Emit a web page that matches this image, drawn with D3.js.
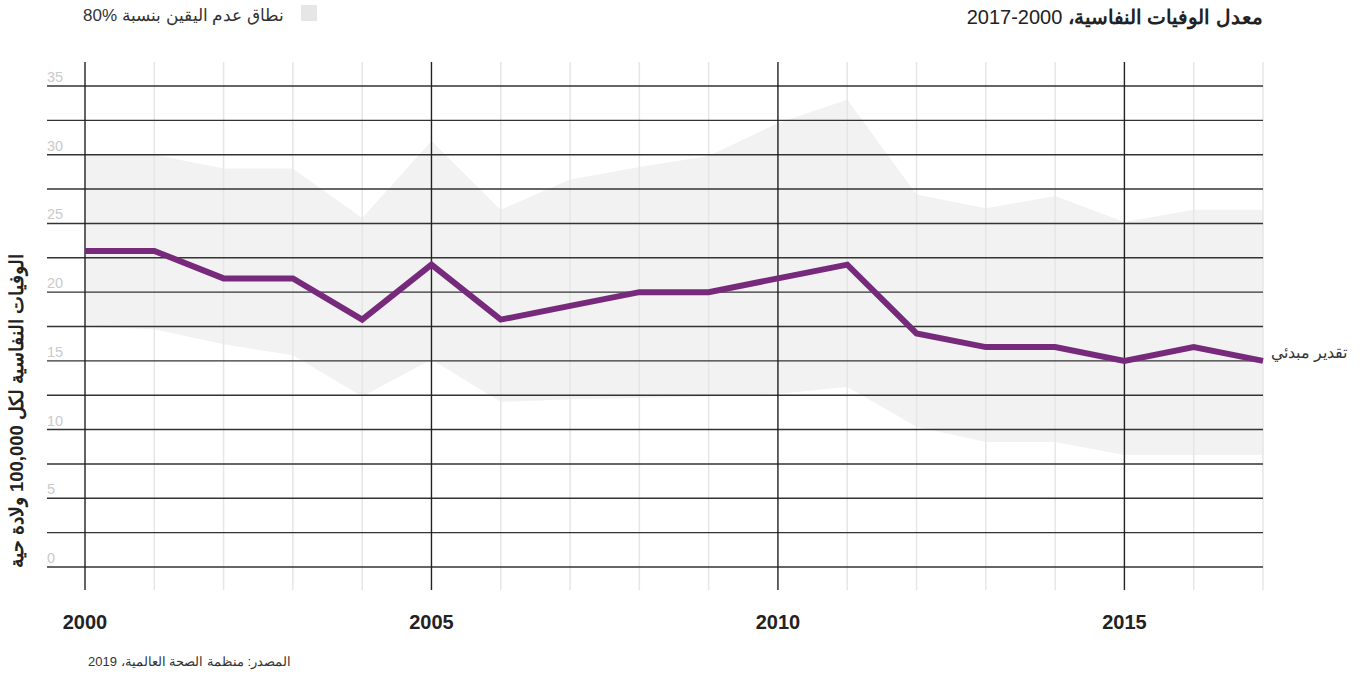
<!DOCTYPE html>
<html>
<head>
<meta charset="utf-8">
<script src="https://cdn.jsdelivr.net/npm/d3@7"></script>
<style>
  html, body { margin: 0; padding: 0; background: #fff; }
  svg { display: block; font-family: "Liberation Sans", Arial, sans-serif; }
</style>
</head>
<body>
<svg id="chart" width="1371" height="677"></svg>
<script>
// ---- data ----
const years = [2000,2001,2002,2003,2004,2005,2006,2007,2008,2009,2010,2011,2012,2013,2014,2015,2016,2017];
const estimate = [23,23,21,21,18,22,18,19,20,20,21,22,17,16,16,15,16,15];
const upper = [30,30,29,29,25.4,31,26,28.2,29.1,29.9,32.3,34,27.1,26.1,27,25.1,26,26];
const lower = [17.5,17.3,16.2,15.4,12.4,15.1,12,12.2,12.3,12.4,12.6,13.1,10.2,9.1,9.1,8.15,8.15,8.15];
const yTickLabels = [0,5,10,15,20,25,30,35];
const yGridValues = [0,2.5,5,7.5,10,12.5,15,17.5,20,22.5,25,27.5,30,32.5,35];
const xTickLabels = [2000,2005,2010,2015];

const titleBold = "معدل الوفيات النفاسية،";
const titleRest = " 2000-2017";
const legendText = "نطاق عدم اليقين بنسبة %80";
const yAxisTitle = "الوفيات النفاسية لكل 100,000 ولادة حية";
const lineLabel = "تقدير مبدئي";
const sourceText = "المصدر: منظمة الصحة العالمية، 2019";

// ---- layout ----
const svg = d3.select("#chart");
const x = d3.scaleLinear().domain([2000, 2017]).range([85, 1263]);
const y = d3.scaleLinear().domain([0, 35]).range([567, 86]);
const gridLeft = 47, gridRight = 1263, vTop = 62, vBottom = 590;

const rows = years.map((yr, i) => ({ yr, est: estimate[i], hi: upper[i], lo: lower[i] }));

// uncertainty band
svg.append("path")
  .datum(rows)
  .attr("fill", "#f2f2f2")
  .attr("d", d3.area().x(d => x(d.yr)).y0(d => y(d.lo)).y1(d => y(d.hi)));

// minor vertical grid (every year)
svg.append("g").selectAll("line")
  .data(years.filter(v => !xTickLabels.includes(v)))
  .join("line")
  .attr("x1", d => x(d)).attr("x2", d => x(d))
  .attr("y1", vTop).attr("y2", vBottom)
  .attr("stroke", "#e6e6e6").attr("stroke-width", 1.5);

// horizontal grid
svg.append("g").selectAll("line")
  .data(yGridValues)
  .join("line")
  .attr("x1", gridLeft).attr("x2", gridRight)
  .attr("y1", d => y(d)).attr("y2", d => y(d))
  .attr("stroke", "#333").attr("stroke-width", 1.4);

// major vertical grid
svg.append("g").selectAll("line")
  .data(xTickLabels)
  .join("line")
  .attr("x1", d => x(d)).attr("x2", d => x(d))
  .attr("y1", vTop).attr("y2", vBottom)
  .attr("stroke", "#222").attr("stroke-width", 1.4);

// y tick labels
svg.append("g").selectAll("text")
  .data(yTickLabels)
  .join("text")
  .attr("x", gridLeft).attr("y", d => y(d) - 4)
  .attr("font-size", 14.5).attr("fill", "#cacaca")
  .text(d => d);

// x tick labels
svg.append("g").selectAll("text")
  .data(xTickLabels)
  .join("text")
  .attr("x", d => x(d)).attr("y", 629)
  .attr("text-anchor", "middle")
  .attr("font-size", 20).attr("font-weight", "bold").attr("fill", "#222")
  .text(d => d);

// estimate line
svg.append("path")
  .datum(rows)
  .attr("fill", "none")
  .attr("stroke", "#772a7c")
  .attr("stroke-width", 6)
  .attr("stroke-linejoin", "miter")
  .attr("d", d3.line().x(d => x(d.yr)).y(d => y(d.est)));

// line label
svg.append("text")
  .attr("x", 1271).attr("y", y(estimate[estimate.length - 1]) - 3)
  .attr("font-size", 16).attr("fill", "#333")
  .text(lineLabel);

// title
const title = svg.append("text")
  .attr("x", 1263).attr("y", 24)
  .attr("direction", "rtl")
  .attr("text-anchor", "start")
  .attr("font-size", 20).attr("fill", "#222");
title.append("tspan").attr("font-weight", "bold").text(titleBold);
title.append("tspan").text(titleRest);

// legend
svg.append("rect")
  .attr("x", 301).attr("y", 5).attr("width", 16).attr("height", 16)
  .attr("fill", "#e6e6e6");
svg.append("text")
  .attr("x", 284).attr("y", 21)
  .attr("direction", "rtl")
  .attr("text-anchor", "start")
  .attr("font-size", 17).attr("fill", "#333")
  .text(legendText);

// y axis title
svg.append("text")
  .attr("transform", "translate(23,411) rotate(-90)")
  .attr("direction", "rtl")
  .attr("text-anchor", "middle")
  .attr("font-size", 18.5).attr("font-weight", "bold").attr("fill", "#222")
  .text(yAxisTitle);

// source
svg.append("text")
  .attr("x", 291).attr("y", 666)
  .attr("direction", "rtl")
  .attr("text-anchor", "start")
  .attr("font-size", 13).attr("fill", "#333")
  .text(sourceText);
</script>
</body>
</html>
